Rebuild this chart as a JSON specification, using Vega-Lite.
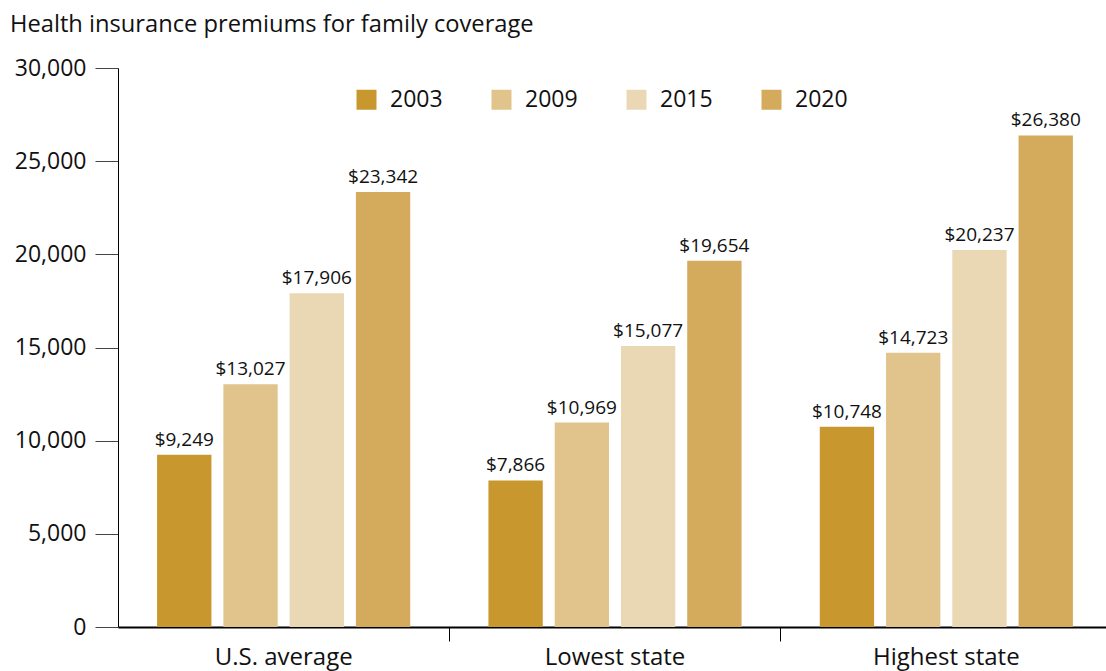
{
  "$schema": "https://vega.github.io/schema/vega-lite/v6.json",
  "width": 994,
  "height": 559,
  "autosize": {"type": "none"},
  "padding": {"left": 118, "top": 68, "right": 0, "bottom": 44},
  "background": "white",
  "title": {
    "text": "Health insurance premiums for family coverage",
    "anchor": "start",
    "frame": "group",
    "dx": -108,
    "offset": 20,
    "fontSize": 23.7,
    "font": "Open Sans",
    "fontWeight": "normal",
    "color": "#111111"
  },
  "data": {
    "values": [
      {"group": "U.S. average", "year": "2003", "premium": 9249},
      {"group": "U.S. average", "year": "2009", "premium": 13027},
      {"group": "U.S. average", "year": "2015", "premium": 17906},
      {"group": "U.S. average", "year": "2020", "premium": 23342},
      {"group": "Lowest state", "year": "2003", "premium": 7866},
      {"group": "Lowest state", "year": "2009", "premium": 10969},
      {"group": "Lowest state", "year": "2015", "premium": 15077},
      {"group": "Lowest state", "year": "2020", "premium": 19654},
      {"group": "Highest state", "year": "2003", "premium": 10748},
      {"group": "Highest state", "year": "2009", "premium": 14723},
      {"group": "Highest state", "year": "2015", "premium": 20237},
      {"group": "Highest state", "year": "2020", "premium": 26380}
    ]
  },
  "config": {
    "view": {"stroke": null},
    "font": "Open Sans"
  },
  "encoding": {
    "x": {
      "field": "group",
      "type": "nominal",
      "sort": ["U.S. average", "Lowest state", "Highest state"],
      "scale": {"paddingInner": 0, "paddingOuter": 0}
    },
    "xOffset": {
      "field": "year",
      "type": "nominal",
      "scale": {"paddingInner": 0.18, "paddingOuter": 0.59}
    },
    "y": {
      "field": "premium",
      "type": "quantitative",
      "scale": {"domain": [0, 30000], "nice": false},
      "axis": {
        "title": null,
        "values": [0, 5000, 10000, 15000, 20000, 25000, 30000],
        "format": ",.0f",
        "grid": false,
        "domainColor": "black",
        "domainWidth": 1,
        "tickColor": "#444444",
        "tickSize": 23,
        "tickWidth": 1,
        "labelFontSize": 23,
        "labelColor": "#111111",
        "labelPadding": 9,
        "labelFont": "Open Sans"
      }
    }
  },
  "layer": [
    {
      "mark": {"type": "bar"},
      "encoding": {
        "x": {
          "field": "group",
          "type": "nominal",
          "sort": ["U.S. average", "Lowest state", "Highest state"],
          "axis": {
            "title": null,
            "orient": "bottom",
            "labelAngle": 0,
            "ticks": false,
            "domainColor": "black",
            "domainWidth": 2,
            "labelFontSize": 24,
            "labelColor": "#111111",
            "labelPadding": 18,
            "labelFont": "Open Sans"
          }
        },
        "color": {
          "field": "year",
          "type": "nominal",
          "scale": {
            "domain": ["2003", "2009", "2015", "2020"],
            "range": ["#C8982F", "#E1C48C", "#EAD8B5", "#D4AA5C"]
          },
          "legend": {
            "title": null,
            "orient": "none",
            "legendX": 237,
            "legendY": 20,
            "direction": "horizontal",
            "symbolType": "square",
            "symbolSize": 400,
            "symbolStrokeWidth": 0,
            "symbolOpacity": 1,
            "labelFontSize": 23,
            "labelColor": "#111111",
            "labelFont": "Open Sans",
            "labelOffset": 12,
            "columnPadding": 47
          }
        }
      }
    },
    {
      "mark": {"type": "text", "baseline": "alphabetic", "dy": -9, "fontSize": 19, "color": "#111111", "font": "Open Sans"},
      "encoding": {
        "x": {
          "field": "group",
          "type": "nominal",
          "sort": ["U.S. average", "Lowest state", "Highest state"],
          "axis": {
            "title": null,
            "orient": "bottom",
            "labels": false,
            "domain": false,
            "values": ["Lowest state", "Highest state"],
            "bandPosition": 0,
            "ticks": true,
            "tickColor": "black",
            "tickSize": 14,
            "tickWidth": 1
          }
        },
        "text": {"field": "premium", "type": "quantitative", "format": "$,"}
      }
    }
  ],
  "resolve": {"axis": {"x": "independent"}}
}
